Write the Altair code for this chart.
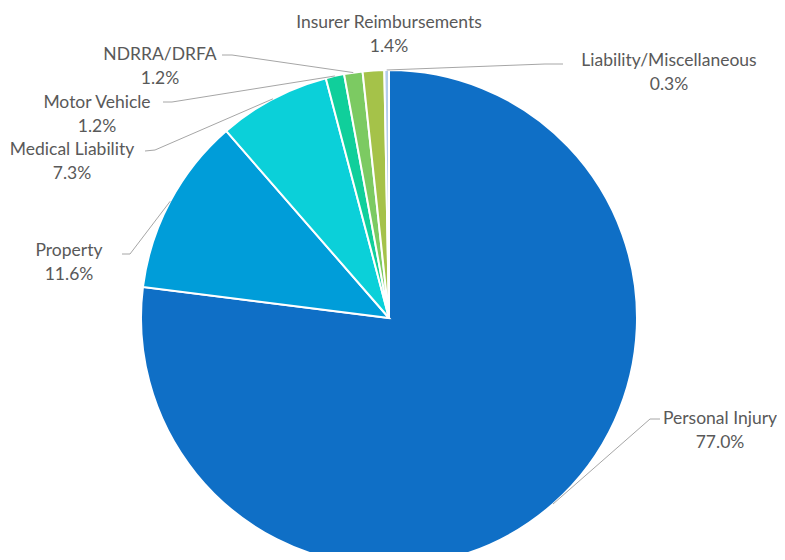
import altair as alt
import pandas as pd
import numpy as np

# ---- data ----
categories = ["Personal Injury", "Property", "Medical Liability", "Motor Vehicle",
              "NDRRA/DRFA", "Insurer Reimbursements", "Liability/Miscellaneous"]
shares = [77.0, 11.6, 7.3, 1.2, 1.2, 1.4, 0.3]
pct_labels = ["77.0%", "11.6%", "7.3%", "1.2%", "1.2%", "1.4%", "0.3%"]

# ---- style / layout ----
colors = ["#0F6FC6", "#009DD9", "#0BD0D9", "#10CF9B", "#7CCA62", "#A5C249", "#B4CDEB"]
CX, CY, R = 381, 310, 248
# label centre (first line) in chart pixels
label_pos = {
    "Personal Injury": (712, 411),
    "Property": (61, 243),
    "Medical Liability": (64, 142),
    "Motor Vehicle": (89, 95),
    "NDRRA/DRFA": (152, 47),
    "Insurer Reimbursements": (381, 15),
    "Liability/Miscellaneous": (661, 53),
}
# leader elbow and end points (chart pixels); None = no leader
leader_pts = {
    "Personal Injury": [(642, 411), (652, 411)],
    "Property": [(122, 246), (114, 246)],
    "Medical Liability": [(147, 142), (137, 143)],
    "Motor Vehicle": [(164, 94), (155, 94)],
    "NDRRA/DRFA": [(224, 47), (214, 47)],
    "Insurer Reimbursements": None,
    "Liability/Miscellaneous": [(537, 56), (555, 56)],
}

df = pd.DataFrame({"category": categories, "share": shares,
                   "idx": list(range(len(categories)))})

pie = alt.Chart(df).mark_arc(outerRadius=R, stroke="white", strokeWidth=2).encode(
    theta=alt.Theta("share:Q", stack=True),
    color=alt.Color("category:N", scale=alt.Scale(domain=categories, range=colors), legend=None),
    order=alt.Order("idx:Q"),
    x=alt.value(CX), y=alt.value(CY),
)

# leader lines, starting at slice mid-angle on the rim
cum = np.cumsum([0] + shares)
rows = []
for i, c in enumerate(categories):
    pts = leader_pts[c]
    if pts is None:
        continue
    mid = (cum[i] + cum[i + 1]) / 2 / cum[-1] * 2 * np.pi
    sx = CX + R * np.sin(mid)
    sy = CY - R * np.cos(mid)
    rows.append({"category": c, "k": 0, "px": sx, "py": sy})
    for k, (px, py) in enumerate(pts, start=1):
        rows.append({"category": c, "k": k, "px": px, "py": py})
lines_df = pd.DataFrame(rows)

leaders = alt.Chart(lines_df).mark_line(color="#A6A6A6", strokeWidth=1).encode(
    x=alt.X("px:Q", scale=None, axis=None),
    y=alt.Y("py:Q", scale=None, axis=None),
    detail="category:N",
    order="k:Q",
)

lab_df = pd.DataFrame({
    "category": categories,
    "pct": pct_labels,
    "lx": [label_pos[c][0] for c in categories],
    "ly": [label_pos[c][1] for c in categories],
})
lab_df["ly2"] = lab_df["ly"] + 24

font = "Lato"
names = alt.Chart(lab_df).mark_text(font=font, fontSize=17.5, color="#595959",
                                    align="center", baseline="middle").encode(
    x=alt.X("lx:Q", scale=None, axis=None),
    y=alt.Y("ly:Q", scale=None, axis=None),
    text="category:N",
)
pcts = alt.Chart(lab_df).mark_text(font=font, fontSize=17.5, color="#595959",
                                   align="center", baseline="middle").encode(
    x=alt.X("lx:Q", scale=None, axis=None),
    y=alt.Y("ly2:Q", scale=None, axis=None),
    text="pct:N",
)

chart = alt.layer(pie, leaders, names, pcts).properties(
    width=769, height=544, padding=0,
    autosize=alt.AutoSizeParams(type="none"),
).configure_view(stroke=None)

chart.save("out.html", embed_options={"renderer": "svg", "actions": False})
